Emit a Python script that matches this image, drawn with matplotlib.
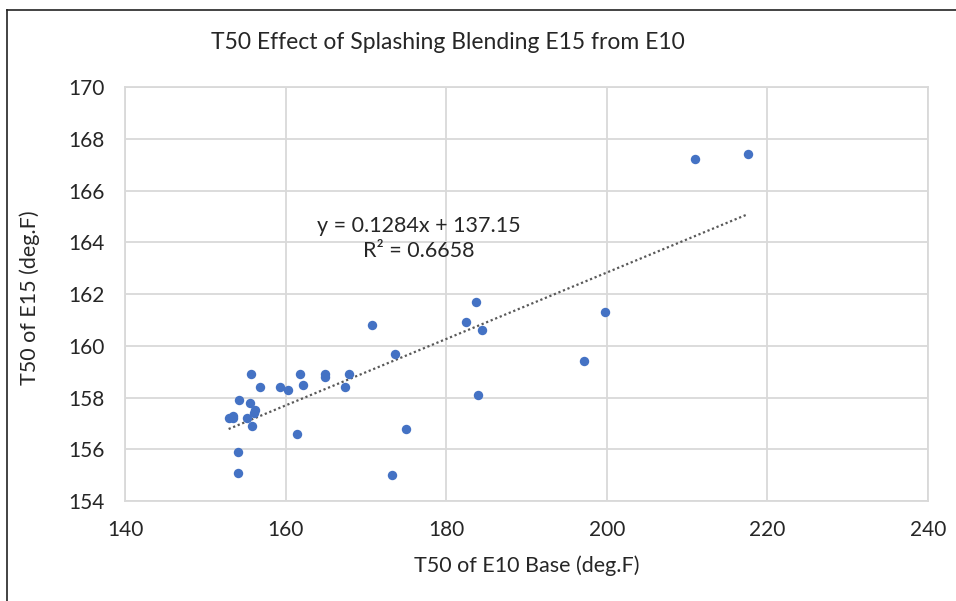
import numpy as np
import matplotlib
matplotlib.use('Agg')
import matplotlib.pyplot as plt
from matplotlib.lines import Line2D

plt.rcParams['font.family'] = ['Lato', 'DejaVu Sans']

# T50 of E10 base vs T50 of E15 (deg.F)
e10 = [170.7, 173.6, 155.7, 161.8, 164.9, 164.9, 167.9, 156.8, 159.3, 160.3,
       162.2, 167.4, 154.2, 155.6, 156.2, 152.9, 153.5, 153.5, 155.2, 156.0,
       155.8, 161.4, 175.0, 154.1, 154.1, 173.3,
       183.7, 182.5, 184.4, 199.8, 197.1, 183.9, 211.0, 217.6]
e15 = [160.8, 159.7, 158.9, 158.9, 158.9, 158.8, 158.9, 158.4, 158.4, 158.3,
       158.5, 158.4, 157.9, 157.8, 157.5, 157.2, 157.3, 157.2, 157.2, 157.4,
       156.9, 156.6, 156.8, 155.9, 155.1, 155.0,
       161.7, 160.9, 160.6, 161.3, 159.4, 158.1, 167.2, 167.4]

slope = 0.1284
intercept = 137.15
r2 = 0.6658

fig = plt.figure(figsize=(9.56, 6.01), dpi=100)
ax = fig.add_axes([0.1308, 0.1664, 0.8399, 0.6888])

ax.scatter(e10, e15, s=46, color='#4472C4', zorder=3, linewidths=0)

# dotted linear trendline over the data range
xt = np.array([min(e10), max(e10)])
ax.plot(xt, slope * xt + intercept, linestyle=(0, (1, 1.2)), color='#595959',
        linewidth=1.6, zorder=2)

ax.text(176.6, 164.15, 'y = %.4fx + %.2f\nR² = %.4f' % (slope, intercept, r2),
        ha='center', va='center', fontsize=15.5, color='#262626', linespacing=1.3)

ax.set_xlim(140, 240)
ax.set_ylim(154, 170)
ax.set_xticks(np.arange(140, 241, 20))
ax.set_yticks(np.arange(154, 171, 2))
ax.grid(True, color='#d9d9d9', linewidth=1.3)
ax.set_axisbelow(True)
for s in ax.spines.values():
    s.set_color('#d9d9d9')
    s.set_linewidth(1.3)
ax.tick_params(length=0, labelsize=15, labelcolor='#262626')
ax.tick_params(axis='x', pad=14)
ax.tick_params(axis='y', pad=15)

fig.text(0.468, 0.930, 'T50 Effect of Splashing Blending E15 from E10',
         ha='center', va='center', fontsize=16.5, color='#262626')
fig.text(0.551, 0.058, 'T50 of E10 Base (deg.F)', ha='center', va='center',
         fontsize=15.5, color='#262626')
fig.text(0.031, 0.504, 'T50 of E15 (deg.F)', ha='center', va='center',
         rotation=90, fontsize=15.5, color='#262626')

# chart frame edges visible in the screenshot (top and left)
fig.add_artist(Line2D([0.007, 1.0], [0.983, 0.983], color='#222222', linewidth=1.2))
fig.add_artist(Line2D([0.007, 0.007], [0.0, 0.983], color='#222222', linewidth=1.2))

fig.savefig('out.png', dpi=100)
